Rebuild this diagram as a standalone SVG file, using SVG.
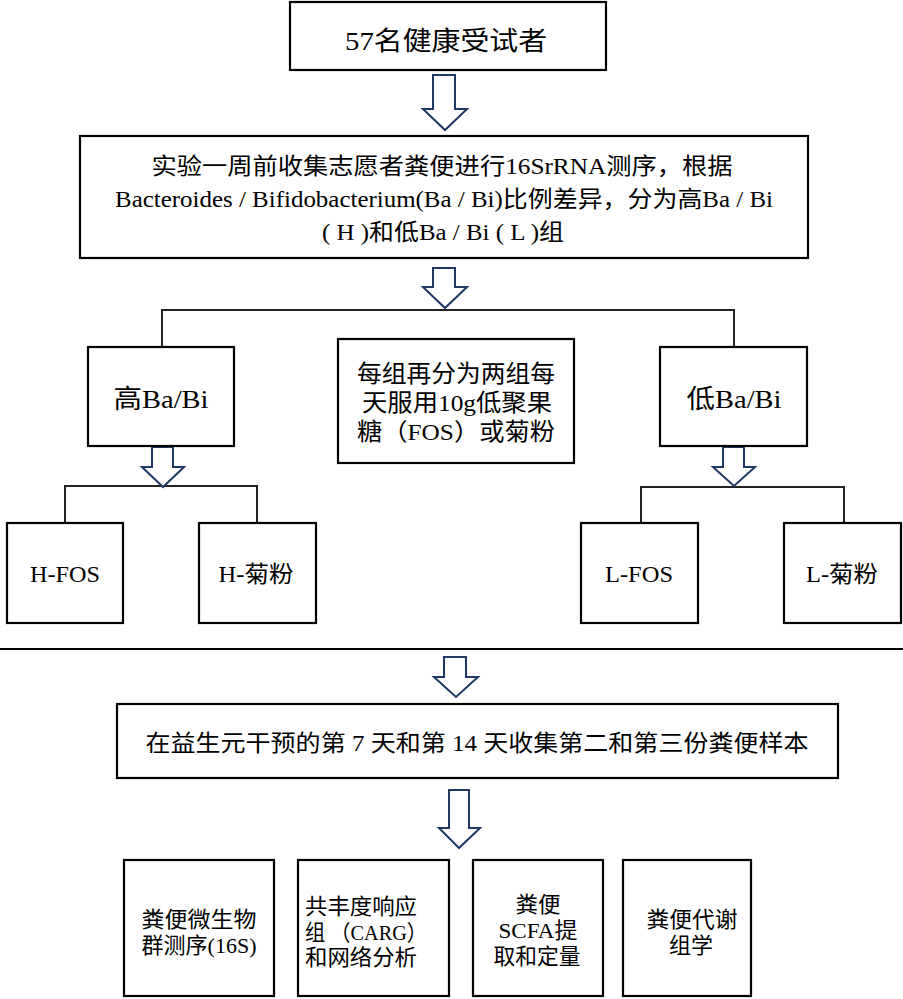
<svg xmlns="http://www.w3.org/2000/svg" width="903" height="999" viewBox="0 0 903 999">
<style>
.box{fill:#fff;stroke:#000;stroke-width:2.2}
.t{font-family:"Liberation Serif","Noto Sans CJK SC",serif;fill:#000;text-anchor:middle}
.tl{font-family:"Liberation Serif","Noto Sans CJK SC",serif;fill:#000}
.arr{fill:#fff;stroke:#1f3864;stroke-width:2;stroke-linejoin:miter}
.con{fill:none;stroke:#222;stroke-width:2}
</style>
<rect width="903" height="999" fill="#fff"/>
<g id="connectors">
<polyline class="con" points="162,347 162,310 734,310 734,347"/>
<polyline class="con" points="65,523 65,486 257,486 257,523"/>
<polyline class="con" points="641,523 641,487 844,487 844,523"/>
<line x1="0" y1="649" x2="903" y2="649" stroke="#000" stroke-width="2.2"/>
<path class="arr" d="M433,75 H455 V109 H467 L445,130 L423,109 H433 Z"/>
<path class="arr" d="M433,268 H455 V287 H467 L445,308 L423,287 H433 Z"/>
<path class="arr" d="M152,447 H173 V467 H184 L163,487 L142,467 H152 Z"/>
<path class="arr" d="M723,447 H744 V467 H755 L734,486 L713,467 H723 Z"/>
<path class="arr" d="M444,657 H466 V677 H478 L456,697 L434,677 H444 Z"/>
<path class="arr" d="M449,790 H469 V828 H480 L459,848 L439,828 H449 Z"/>
</g>
<g id="n-subjects">
<rect class="box" x="290" y="2" width="316" height="68"/>
<text class="t" x="446" y="50" font-size="26" textLength="202" lengthAdjust="spacingAndGlyphs">57名健康受试者</text>
</g>
<g id="n-sequencing">
<rect class="box" x="80" y="136" width="728" height="122"/>
<text class="t" x="442" y="174" font-size="23" textLength="581" lengthAdjust="spacingAndGlyphs">实验一周前收集志愿者粪便进行16SrRNA测序，根据</text>
<text class="t" x="444" y="207" font-size="23" textLength="658" lengthAdjust="spacingAndGlyphs">Bacteroides / Bifidobacterium(Ba / Bi)比例差异，分为高Ba / Bi</text>
<text class="t" x="443" y="240" font-size="23" textLength="242" lengthAdjust="spacingAndGlyphs">( H )和低Ba / Bi ( L )组</text>
</g>
<g id="n-high">
<rect class="box" x="88" y="347" width="146" height="99"/>
<text class="t" x="161" y="408" font-size="26" textLength="95" lengthAdjust="spacingAndGlyphs">高Ba/Bi</text>
</g>
<g id="n-note">
<rect class="box" x="338" y="339" width="236" height="124"/>
<text class="t" x="456" y="382" font-size="24" textLength="198" lengthAdjust="spacingAndGlyphs">每组再分为两组每</text>
<text class="t" x="457" y="411" font-size="24" textLength="190" lengthAdjust="spacingAndGlyphs">天服用10g低聚果</text>
<text class="t" x="456" y="440" font-size="24" textLength="198" lengthAdjust="spacingAndGlyphs">糖（FOS）或菊粉</text>
</g>
<g id="n-low">
<rect class="box" x="660" y="347" width="147" height="99"/>
<text class="t" x="734" y="408" font-size="26" textLength="95" lengthAdjust="spacingAndGlyphs">低Ba/Bi</text>
</g>
<g id="n-hfos">
<rect class="box" x="7" y="523" width="116" height="100"/>
<text class="t" x="65" y="582" font-size="23" textLength="70" lengthAdjust="spacingAndGlyphs">H-FOS</text>
</g>
<g id="n-hinulin">
<rect class="box" x="199" y="523" width="117" height="100"/>
<text class="t" x="256" y="582" font-size="23" textLength="75" lengthAdjust="spacingAndGlyphs">H-菊粉</text>
</g>
<g id="n-lfos">
<rect class="box" x="581" y="523" width="117" height="100"/>
<text class="t" x="639" y="582" font-size="23" textLength="68" lengthAdjust="spacingAndGlyphs">L-FOS</text>
</g>
<g id="n-linulin">
<rect class="box" x="784" y="523" width="117" height="100"/>
<text class="t" x="842" y="582" font-size="23" textLength="72" lengthAdjust="spacingAndGlyphs">L-菊粉</text>
</g>
<g id="n-samples">
<rect class="box" x="117" y="704" width="721" height="74"/>
<text class="t" x="477" y="751" font-size="23" textLength="663" lengthAdjust="spacingAndGlyphs">在益生元干预的第 7 天和第 14 天收集第二和第三份粪便样本</text>
</g>
<g id="n-16s">
<rect class="box" x="124" y="860" width="150" height="136"/>
<text class="t" x="199" y="927" font-size="22" textLength="115" lengthAdjust="spacingAndGlyphs">粪便微生物</text>
<text class="t" x="199" y="953" font-size="22" textLength="115" lengthAdjust="spacingAndGlyphs">群测序(16S)</text>
</g>
<g id="n-carg">
<rect class="box" x="298" y="860" width="151" height="136"/>
<text class="tl" x="305" y="914" font-size="22" textLength="112" lengthAdjust="spacingAndGlyphs">共丰度响应</text>
<text class="tl" x="305" y="940" font-size="22" textLength="122" lengthAdjust="spacingAndGlyphs">组 （CARG）</text>
<text class="tl" x="305" y="965" font-size="22" textLength="112" lengthAdjust="spacingAndGlyphs">和网络分析</text>
</g>
<g id="n-scfa">
<rect class="box" x="473" y="860" width="130" height="136"/>
<text class="t" x="538" y="912" font-size="22" textLength="45" lengthAdjust="spacingAndGlyphs">粪便</text>
<text class="t" x="538" y="938" font-size="22" textLength="79" lengthAdjust="spacingAndGlyphs">SCFA提</text>
<text class="t" x="537" y="964" font-size="22" textLength="87" lengthAdjust="spacingAndGlyphs">取和定量</text>
</g>
<g id="n-metab">
<rect class="box" x="623" y="860" width="128" height="136"/>
<text class="t" x="692" y="927" font-size="22" textLength="91" lengthAdjust="spacingAndGlyphs">粪便代谢</text>
<text class="t" x="691" y="953" font-size="22" textLength="44" lengthAdjust="spacingAndGlyphs">组学</text>
</g>
</svg>
